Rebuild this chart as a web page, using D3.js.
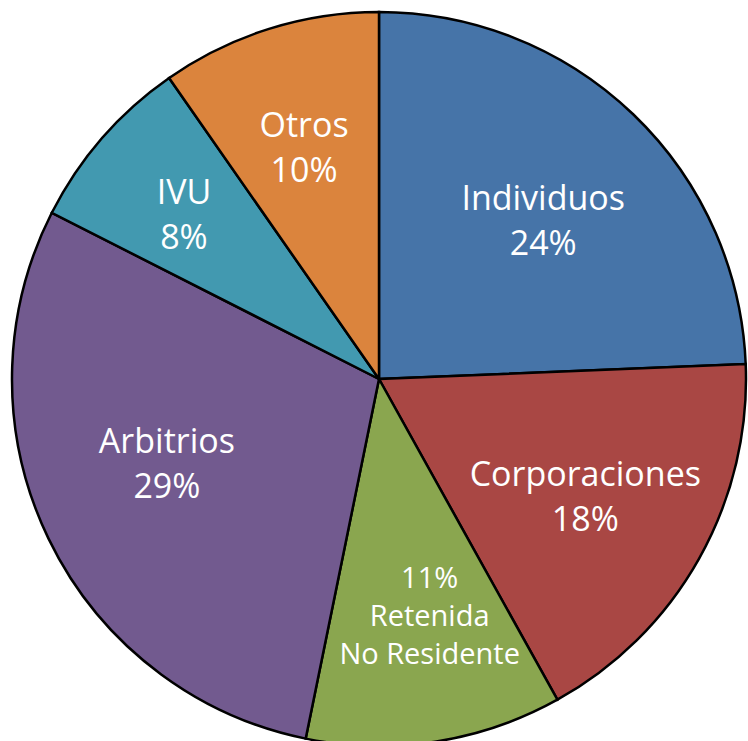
<!DOCTYPE html>
<meta charset="utf-8">
<style>
body { margin: 0; background: #fff; }
.slice path { stroke: #000; stroke-width: 2.5px; }
.labels text { font-family: "Open Sans", sans-serif; fill: #fff; text-anchor: middle; }
</style>
<svg width="748" height="741"></svg>
<script src="https://cdn.jsdelivr.net/npm/d3@7"></script>
<script>

// slices, clockwise from 12 o'clock
var names = ["Individuos", "Corporaciones", "Retenida No Residente", "Arbitrios", "IVU", "Otros"];
var values = [24.35, 17.57, 11.28, 29.28, 7.83, 9.69];
var colors = ["#4674a8", "#a94744", "#8aa64f", "#725a8f", "#4299b0", "#db843d"];

var data = names.map(function(n, i) { return {name: n, value: values[i]}; });
var total = d3.sum(values);
var pct = d3.format(".0%");

var svg = d3.select("svg"),
    cx = 379, cy = 379, radius = 367,
    g = svg.append("g").attr("transform", "translate(" + cx + "," + cy + ")");

var color = d3.scaleOrdinal(names, colors);

var pie = d3.pie().sort(null).value(function(d) { return d.value; });
var arc = d3.arc().innerRadius(0).outerRadius(radius);
var labelArc = d3.arc().innerRadius(240).outerRadius(240);

// small placement tweaks like the original's best-fit labels
var nudge = {
  "Individuos": [-2, 15],
  "Corporaciones": [-3, 0],
  "Retenida No Residente": [14, 0],
  "Arbitrios": [4, -20],
  "IVU": [-14, -7],
  "Otros": [-3, -2]
};

var arcs = pie(data);

g.selectAll(".slice")
  .data(arcs)
  .enter().append("g")
    .attr("class", "slice")
  .append("path")
    .attr("d", arc)
    .attr("fill", function(d) { return color(d.data.name); });

var labels = g.append("g").attr("class", "labels");

arcs.forEach(function(d) {
  var c = labelArc.centroid(d), n = nudge[d.data.name];
  var x = c[0] + n[0], y = c[1] + n[1];
  var p = pct(d.data.value / total);
  var t = labels.append("text");
  if (d.data.name === "Retenida No Residente") {
    t.style("font-size", "29px");
    [p, "Retenida", "No Residente"].forEach(function(s, i) {
      t.append("tspan").attr("x", x).attr("y", y + (i - 1) * 38).attr("dy", "0.35em").text(s);
    });
  } else {
    t.style("font-size", "34px");
    [d.data.name, p].forEach(function(s, i) {
      t.append("tspan").attr("x", x).attr("y", y + (i - 0.5) * 45).attr("dy", "0.35em").text(s);
    });
  }
});

</script>
